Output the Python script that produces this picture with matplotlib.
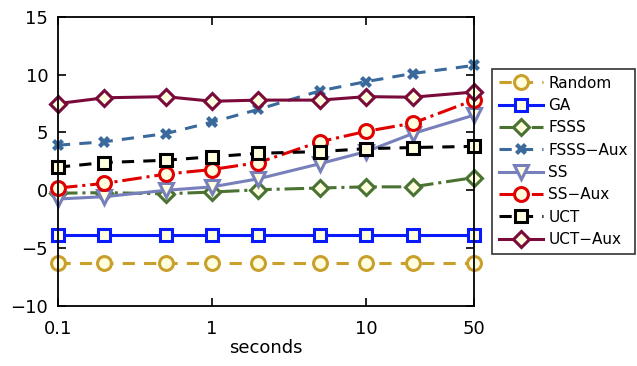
import matplotlib
matplotlib.use("Agg")
import matplotlib.pyplot as plt
from matplotlib.ticker import FixedLocator, FixedFormatter, NullLocator

seconds = [0.1, 0.2, 0.5, 1, 2, 5, 10, 20, 50]

random_ = [-6.3, -6.3, -6.3, -6.3, -6.3, -6.3, -6.3, -6.3, -6.3]
ga = [-3.9, -3.9, -3.9, -3.9, -3.9, -3.9, -3.9, -3.9, -3.9]
fsss = [-0.25, -0.2, -0.3, -0.15, 0.05, 0.2, 0.3, 0.3, 1.1]
fsss_aux = [3.9, 4.2, 4.9, 5.9, 7.0, 8.6, 9.4, 10.1, 10.8]
ss = [-0.75, -0.55, 0.0, 0.3, 1.0, 2.3, 3.35, 4.9, 6.5]
ss_aux = [0.2, 0.6, 1.4, 1.8, 2.4, 4.2, 5.1, 5.8, 7.8]
uct = [2.0, 2.4, 2.6, 2.9, 3.2, 3.35, 3.6, 3.7, 3.8]
uct_aux = [7.5, 8.0, 8.1, 7.7, 7.8, 7.8, 8.1, 8.05, 8.5]

xticks = [0.1, 1, 10, 50]
xticklabels = ["0.1", "1", "10", "50"]
yticks = [-10, -5, 0, 5, 10, 15]

cream = "#ffffe0"

fig = plt.figure(figsize=(6.37, 3.66), dpi=100)
ax = fig.add_axes([0.091, 0.164, 0.653, 0.79])

series = [
    ("Random", random_, "#c9a02c", (0, (4, 3)), "o"),
    ("GA", ga, "#0a1aff", "-", "s"),
    ("FSSS", fsss, "#4a7232", "-.", "D"),
    ("FSSS\u2212Aux", fsss_aux, "#3a6a9c", (0, (4, 3)), "X"),
    ("SS", ss, "#7880bc", "-", "v"),
    ("SS\u2212Aux", ss_aux, "#e00000", "-.", "o"),
    ("UCT", uct, "#000000", (0, (4, 3)), "s"),
    ("UCT\u2212Aux", uct_aux, "#7a0a3a", "-", "D"),
]

for name, vals, col, ls, mk in series:
    ms = 10
    if mk == "s":
        ms = 9
    if mk == "D":
        ms = 8.5
    if mk == "X":
        ax.plot(seconds, vals, color=col, linestyle=ls, linewidth=2.2,
                marker=mk, markersize=9, markerfacecolor=col,
                markeredgecolor=col, markeredgewidth=0, label=name,
                clip_on=False)
    else:
        ax.plot(seconds, vals, color=col, linestyle=ls, linewidth=2.2,
                marker=mk, markersize=ms, markerfacecolor=cream,
                markeredgecolor=col, markeredgewidth=2.2, label=name,
                clip_on=False)

ax.set_xscale("log")
ax.set_xlim(0.1, 50)
ax.set_ylim(-10, 15)
ax.xaxis.set_major_locator(FixedLocator(xticks))
ax.xaxis.set_major_formatter(FixedFormatter(xticklabels))
ax.xaxis.set_minor_locator(NullLocator())
ax.set_yticks(yticks)
ax.tick_params(direction="in", top=True, right=True, length=6, width=1.2,
               labelsize=13)
ax.tick_params(axis="x", pad=10)
ax.tick_params(axis="y", pad=7)
for s in ax.spines.values():
    s.set_linewidth(1.3)
ax.set_xlabel("seconds", fontsize=13, labelpad=1)

leg = ax.legend(loc="center left", bbox_to_anchor=(1.043, 0.5), fontsize=11,
                frameon=True, fancybox=False, edgecolor="black",
                handlelength=2.9, borderpad=0.45, labelspacing=0.48,
                handletextpad=0.35, borderaxespad=0)
leg.get_frame().set_linewidth(1.2)

fig.savefig("out.png", dpi=100)
